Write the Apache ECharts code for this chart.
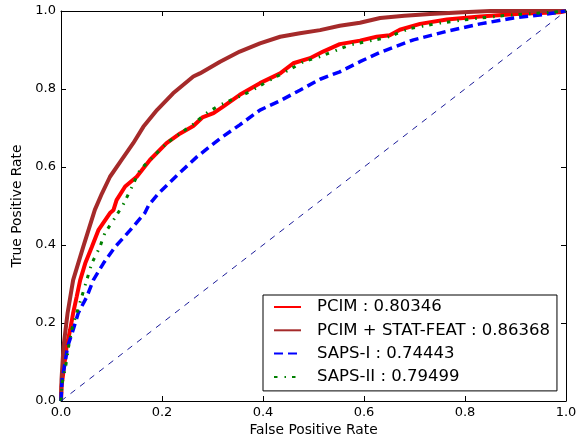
<!DOCTYPE html>
<html>
<head>
<meta charset="utf-8">
<script src="https://cdn.jsdelivr.net/npm/echarts@6/dist/echarts.min.js"></script>
<style>
html,body{margin:0;padding:0;background:#fff;}
#chart{width:585px;height:444px;}
</style>
</head>
<body>
<div id="chart"></div>
<script>
var xTickLabels = ['0.0', '0.2', '0.4', '0.6', '0.8', '1.0'];
var yTickLabels = ['0.0', '0.2', '0.4', '0.6', '0.8', '1.0'];
var seriesNames = ['PCIM : 0.80346', 'PCIM + STAT-FEAT : 0.86368', 'SAPS-I : 0.74443', 'SAPS-II : 0.79499'];

var pcimFpr = [0, 0.001, 0.007, 0.011, 0.018, 0.024, 0.031, 0.038, 0.048, 0.061, 0.074, 0.097, 0.104, 0.11, 0.127, 0.15, 0.176, 0.209, 0.236, 0.262, 0.28, 0.302, 0.321, 0.354, 0.394, 0.434, 0.46, 0.493, 0.519, 0.552, 0.592, 0.625, 0.651, 0.671, 0.711, 0.764, 0.83, 0.909, 0.988, 1.0];
var pcimTpr = [0, 0.037, 0.097, 0.139, 0.182, 0.225, 0.267, 0.31, 0.353, 0.395, 0.438, 0.482, 0.49, 0.515, 0.55, 0.575, 0.618, 0.661, 0.686, 0.705, 0.727, 0.738, 0.755, 0.785, 0.815, 0.840, 0.866, 0.879, 0.896, 0.915, 0.924, 0.934, 0.938, 0.952, 0.967, 0.978, 0.986, 0.993, 0.997, 1.0];

var statFpr = [0, 0.001, 0.005, 0.013, 0.024, 0.044, 0.067, 0.081, 0.097, 0.12, 0.143, 0.163, 0.19, 0.222, 0.262, 0.275, 0.315, 0.354, 0.394, 0.434, 0.473, 0.513, 0.552, 0.592, 0.632, 0.68, 0.731, 0.796, 0.85, 1.0];
var statTpr = [0, 0.054, 0.139, 0.225, 0.31, 0.395, 0.49, 0.532, 0.575, 0.618, 0.661, 0.703, 0.746, 0.789, 0.832, 0.840, 0.870, 0.896, 0.917, 0.934, 0.943, 0.951, 0.962, 0.970, 0.982, 0.988, 0.992, 0.997, 1.0, 1.0];

var saps1Fpr = [0, 0.002, 0.008, 0.013, 0.024, 0.034, 0.051, 0.064, 0.084, 0.107, 0.137, 0.166, 0.174, 0.193, 0.23, 0.269, 0.315, 0.354, 0.394, 0.434, 0.473, 0.513, 0.552, 0.592, 0.632, 0.698, 0.764, 0.83, 0.896, 0.962, 1.0];
var saps1Tpr = [0, 0.054, 0.097, 0.139, 0.182, 0.225, 0.267, 0.31, 0.353, 0.395, 0.438, 0.482, 0.503, 0.532, 0.579, 0.626, 0.673, 0.708, 0.746, 0.770, 0.797, 0.825, 0.844, 0.870, 0.894, 0.926, 0.948, 0.967, 0.982, 0.992, 1.0];

var saps2Fpr = [0, 0.002, 0.009, 0.015, 0.021, 0.031, 0.041, 0.051, 0.061, 0.077, 0.087, 0.104, 0.123, 0.139, 0.156, 0.176, 0.209, 0.236, 0.262, 0.289, 0.315, 0.341, 0.374, 0.414, 0.453, 0.48, 0.513, 0.539, 0.572, 0.599, 0.645, 0.691, 0.75, 0.816, 0.883, 0.942, 1.0];
var saps2Tpr = [0, 0.045, 0.087, 0.139, 0.182, 0.225, 0.267, 0.31, 0.353, 0.395, 0.431, 0.464, 0.503, 0.545, 0.592, 0.618, 0.661, 0.686, 0.71, 0.739, 0.759, 0.774, 0.793, 0.823, 0.85, 0.87, 0.883, 0.896, 0.913, 0.92, 0.932, 0.955, 0.969, 0.98, 0.989, 0.994, 1.0];

var diagFpr = [0, 1];
var diagTpr = [0, 1];

function pairs(xs, ys) { return xs.map(function (x, i) { return [x, ys[i]]; }); }

var FONT = 'DejaVu Sans';
var chart = echarts.init(document.getElementById('chart'), null, {renderer: 'canvas'});

function baseAxis(extra) {
  var a = {
    type: 'value', min: 0, max: 1, interval: 0.2,
    splitLine: {show: false},
    axisLine: {show: true, onZero: false, lineStyle: {color: '#000', width: 1}},
    axisTick: {show: true, inside: true, length: 5, lineStyle: {color: '#000'}},
    axisLabel: {show: false}
  };
  for (var k in extra) a[k] = extra[k];
  return a;
}

var option = {
  backgroundColor: '#fff',
  animation: false,
  grid: {left: 61, right: 19, top: 11, bottom: 43, containLabel: false},
  xAxis: [
    baseAxis({
      position: 'bottom',
      name: 'False Positive Rate', nameLocation: 'middle', nameGap: 21,
      nameTextStyle: {fontFamily: FONT, fontSize: 13.8, color: '#000'},
      axisLabel: {show: true, margin: 5, fontFamily: FONT, fontSize: 13, color: '#000',
        formatter: function (v) { return xTickLabels[Math.round(v / 0.2)]; }}
    }),
    baseAxis({position: 'top'})
  ],
  yAxis: [
    baseAxis({
      position: 'left',
      name: 'True Positive Rate', nameLocation: 'middle', nameGap: 28,
      nameTextStyle: {fontFamily: FONT, fontSize: 13.8, color: '#000'},
      axisLabel: {show: true, margin: 5, fontFamily: FONT, fontSize: 13, color: '#000',
        formatter: function (v) { return yTickLabels[Math.round(v / 0.2)]; }}
    }),
    baseAxis({position: 'right'})
  ],
  legend: {
    data: seriesNames,
    orient: 'vertical',
    left: 263, top: 295,
    padding: [3, 7, 5, 10],
    itemWidth: 27, itemHeight: 10, itemGap: 5.3,
    borderColor: '#000', borderWidth: 1, borderRadius: 0,
    backgroundColor: '#fff',
    itemStyle: {opacity: 0},
    textStyle: {fontFamily: FONT, fontSize: 16.5, color: '#000', lineHeight: 18, padding: [0, 0, 0, 11]}
  },
  series: [
    {name: seriesNames[0], type: 'line', data: pairs(pcimFpr, pcimTpr), symbol: 'none', smooth: false,
      lineStyle: {color: '#ff0000', width: 4}, itemStyle: {color: '#ff0000'}, z: 2},
    {name: seriesNames[1], type: 'line', data: pairs(statFpr, statTpr), symbol: 'none',
      lineStyle: {color: '#a52a2a', width: 4}, itemStyle: {color: '#a52a2a'}, z: 2},
    {name: seriesNames[2], type: 'line', data: pairs(saps1Fpr, saps1Tpr), symbol: 'none',
      lineStyle: {color: '#0000ff', width: 3.5, type: [9, 5]}, itemStyle: {color: '#0000ff'}, z: 3},
    {name: seriesNames[3], type: 'line', data: pairs(saps2Fpr, saps2Tpr), symbol: 'none',
      lineStyle: {color: '#008000', width: 3, type: [3.5, 7, 1.5, 6]}, itemStyle: {color: '#008000'}, z: 4},
    {name: 'diag', type: 'line', data: pairs(diagFpr, diagTpr), symbol: 'none',
      lineStyle: {color: '#1c1c99', width: 1, type: [6, 6]}, itemStyle: {color: '#1c1c99'}, z: 5}
  ]
};
chart.setOption(option);
</script>
</body>
</html>
